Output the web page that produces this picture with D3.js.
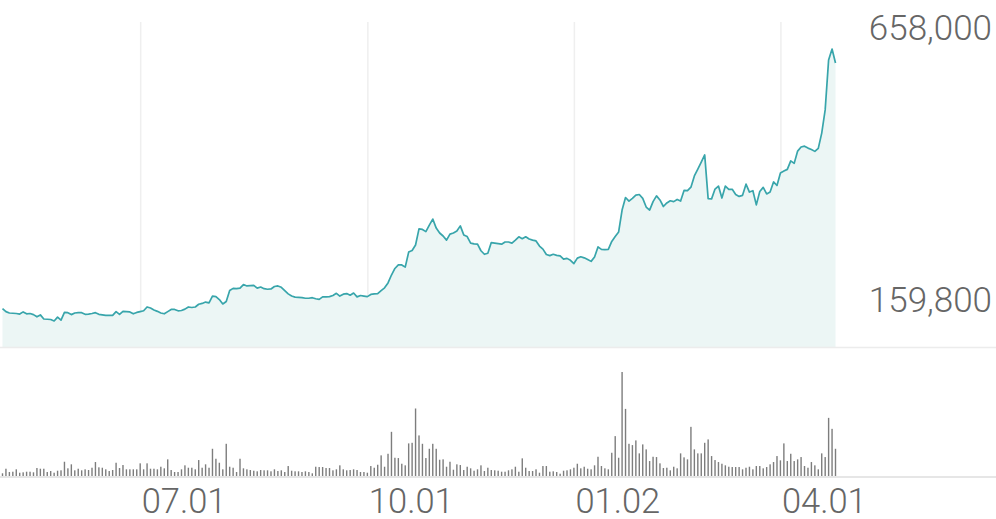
<!DOCTYPE html>
<html>
<head>
<meta charset="utf-8">
<script src="https://cdn.jsdelivr.net/npm/d3@7"></script>
<style>
  body { margin: 0; background: #fff; }
  svg text { font-family: Roboto, "Noto Sans", sans-serif; font-weight: 300; fill: #666; }
</style>
</head>
<body>
<div class="chart"></div>
<script>
// daily closing prices (won), one per trading day
var prices = [
  182500,177000,174500,174000,173500,172500,176500,173000,173500,171500,
  167500,171000,163500,163000,162500,159800,167000,161500,175500,175000,
  171500,174500,175000,175000,172000,172500,173500,175000,172000,171000,
  170000,170000,170000,177000,172000,177500,177000,176500,173000,175500,
  177000,178500,185500,183500,180000,177500,174500,173000,177000,181000,
  181000,178500,179000,181500,185500,184500,185500,190500,192000,194500,
  193000,205500,204500,199000,191000,195500,215500,219500,219000,220000,
  226500,224000,224500,225000,220000,222000,219000,218000,218500,223000,
  224000,221500,215500,209500,205500,203500,203000,202500,201500,201500,
  202500,200500,199500,204000,204000,204500,206500,210500,205500,209000,
  210000,207000,211000,204000,206500,205500,204500,208500,209500,210000,
  215500,220500,229500,244000,256000,262500,262500,258500,286000,289000,
  299000,328500,327500,323500,335500,346500,330000,321000,315500,308000,
  319000,321000,324500,334000,317500,314500,302500,301000,300500,288500,
  282000,284000,303500,302500,301500,300500,304500,304500,302500,308000,
  314000,310500,314000,310000,308000,306500,297000,291500,281500,279500,
  282000,280000,279000,273000,274500,271000,265000,275000,277500,275500,
  272500,269000,277000,295500,291000,290500,291000,305500,314500,323000,
  363000,386000,379500,384500,390500,391500,384500,368500,363000,378500,
  389000,381500,369500,376000,380000,378500,382500,379500,399000,398500,
  405000,425500,438000,451000,464000,384000,383500,401500,407000,385000,
  407000,401000,401000,391500,388000,390000,410500,396000,398500,372500,
  397000,404500,392500,396000,414500,408000,431000,434500,437500,453000,
  448500,471000,478500,480000,476500,474000,470500,476000,504000,546500,
  638000,658000,632500
];

// daily volume (thousand shares)
var volumes = [
  27,73,40,43,67,33,37,43,43,37,
  80,73,73,40,50,33,53,57,143,77,
  117,57,73,57,67,60,83,140,87,83,
  67,50,60,133,80,110,67,67,67,67,
  127,67,127,73,73,67,93,77,167,60,
  40,40,67,107,83,83,67,160,83,117,
  83,273,173,133,67,323,93,83,40,173,
  77,67,60,53,47,60,57,57,47,67,
  50,57,40,100,53,47,47,40,47,40,
  27,93,90,90,80,80,57,67,107,67,
  57,60,67,60,40,40,33,100,83,113,
  207,93,223,443,183,180,123,107,327,333,
  677,407,323,180,273,323,273,163,167,93,
  143,63,117,110,60,93,77,53,67,107,
  50,83,60,57,53,43,43,57,67,93,
  43,177,83,50,50,67,33,100,100,43,
  47,40,23,53,57,67,83,123,77,93,
  73,67,107,193,100,77,67,233,400,183,
  1043,673,323,310,357,227,317,267,150,193,
  190,127,80,83,57,93,77,227,187,167,
  493,267,227,227,333,367,200,160,140,123,
  107,93,90,90,90,67,83,93,67,100,
  100,77,90,117,140,200,157,327,150,223,
  150,167,190,100,83,140,107,67,227,190,
  583,473,273
];

// month ticks: index of the first trading day of the month
var tickIndex = [40, 106, 166, 226];
var tickLabels = ["07.01", "10.01", "01.02", "04.01"];

var width = 996, height = 519;
var priceTop = 22, priceBottom = 347, volBottom = 477;

var svg = d3.select(".chart")
  .append("svg")
  .attr("width", width)
  .attr("height", height);

var x = d3.scaleLinear().domain([0, prices.length - 1]).range([2.5, 835.5]);
var y = d3.scaleLinear().domain([d3.min(prices), d3.max(prices)]).range([321, 49]);
var yVol = d3.scaleLinear().domain([0, d3.max(volumes)]).range([volBottom - 1, 372]);

// vertical gridlines
var grid = svg.append("g")
  .attr("class", "grid")
  .attr("transform", `translate(0,${priceBottom})`)
  .call(d3.axisBottom(x).tickValues(tickIndex).tickSize(-(priceBottom - priceTop)).tickFormat(""));
grid.select(".domain").remove();
grid.selectAll("line").attr("stroke", "#efefef").attr("stroke-width", 1.5);

// area + line
var area = d3.area()
  .x((d, i) => x(i))
  .y0(priceBottom)
  .y1(d => y(d));
var line = d3.line()
  .x((d, i) => x(i))
  .y(d => y(d));

svg.append("path")
  .datum(prices)
  .attr("d", area)
  .attr("fill", "#ecf6f5");

svg.append("path")
  .datum(prices)
  .attr("d", line)
  .attr("fill", "none")
  .attr("stroke", "#38a5ab")
  .attr("stroke-width", 1.7)
  .attr("stroke-linejoin", "round");

// separators
svg.append("line")
  .attr("x1", 0).attr("x2", width)
  .attr("y1", priceBottom + 0.5).attr("y2", priceBottom + 0.5)
  .attr("stroke", "#ececec").attr("stroke-width", 1.5);

svg.append("line")
  .attr("x1", 0).attr("x2", width)
  .attr("y1", volBottom).attr("y2", volBottom)
  .attr("stroke", "#e6e6e6").attr("stroke-width", 2);

// volume bars
svg.append("g")
  .attr("class", "volume")
  .selectAll("rect")
  .data(volumes)
  .enter()
  .append("rect")
  .attr("x", (d, i) => x(i) - 0.7)
  .attr("width", 1.4)
  .attr("y", d => yVol(d))
  .attr("height", d => yVol(0) - yVol(d))
  .attr("fill", "#7d7d7d");

// max / min labels
svg.append("g")
  .selectAll("text")
  .data([d3.max(prices), d3.min(prices)])
  .enter()
  .append("text")
  .attr("x", 992)
  .attr("y", d => y(d) - 9)
  .attr("text-anchor", "end")
  .attr("font-size", 35)
  .text(d => d3.format(",")(d));

// month labels
var xAxis = svg.append("g")
  .attr("class", "x axis")
  .attr("transform", `translate(0,${volBottom})`)
  .call(d3.axisBottom(x).tickValues(tickIndex).tickSize(0).tickFormat((d, i) => tickLabels[i]));
xAxis.select(".domain").remove();
xAxis.selectAll("text")
  .attr("y", 36)
  .attr("dy", 0)
  .attr("x", 1)
  .attr("text-anchor", "start")
  .attr("font-size", 34.5)
  .attr("font-family", null);
</script>
</body>
</html>
